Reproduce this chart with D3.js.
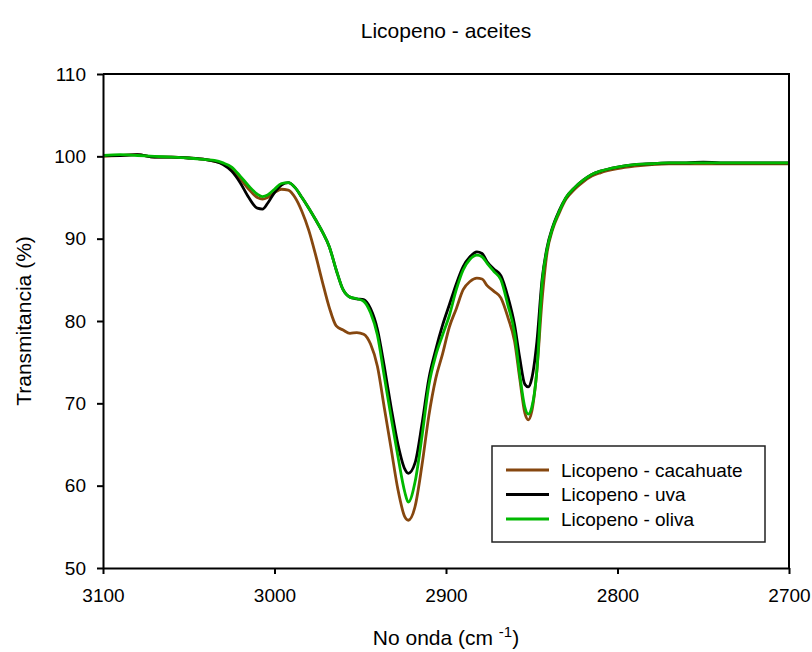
<!DOCTYPE html>
<html>
<head>
<meta charset="utf-8">
<script src="https://cdn.jsdelivr.net/npm/d3@7"></script>
<style>
  body { margin: 0; background: #fff; }
  svg { font-family: "Liberation Sans", Arial, sans-serif; }
</style>
</head>
<body>
<div id="chart"></div>
<script>
// wavenumber grid (cm-1), shared by all three spectra
const wavenumbers = [3100, 3090, 3080, 3070, 3060, 3050, 3040, 3035, 3030, 3025, 3020, 3015, 3010, 3007, 3004, 3000,
  2996, 2992, 2988, 2984, 2980, 2976, 2972, 2968, 2964, 2960, 2956, 2952, 2948, 2944, 2940, 2936, 2932, 2928,
  2924, 2922, 2918, 2914, 2910, 2906, 2902, 2898, 2894, 2890, 2886, 2882, 2879, 2876, 2872, 2868, 2864, 2860,
  2857, 2854, 2852, 2850, 2847, 2844, 2841, 2838, 2834, 2830, 2825, 2820, 2815, 2810, 2800, 2790, 2780, 2770,
  2760, 2750, 2740, 2730, 2720, 2710, 2700];

const cacahuate = [100.0, 100.1, 100.2, 99.9, 99.9, 99.8, 99.6, 99.4, 99.1, 98.5, 97.3, 96.0, 95.0, 94.8, 95.0, 95.6,
  96.0, 95.9, 95.0, 93.3, 91.0, 88.0, 84.7, 81.6, 79.4, 78.9, 78.5, 78.6, 78.4, 77.2, 74.5, 69.5, 64.5, 59.5,
  56.2, 55.8, 57.5, 62.5, 68.5, 73.0, 76.0, 79.3, 81.5, 83.8, 84.8, 85.2, 85.1, 84.3, 83.6, 82.8, 80.5, 77.5,
  73.0, 68.8, 68.0, 69.0, 74.0, 82.5, 88.4, 91.0, 93.1, 94.8, 96.0, 96.9, 97.6, 98.0, 98.5, 98.8, 99.0, 99.1,
  99.1, 99.1, 99.1, 99.1, 99.1, 99.1, 99.1];

const uva = [100.1, 100.1, 100.2, 99.9, 99.9, 99.8, 99.6, 99.4, 99.0, 98.2, 96.8, 95.0, 93.7, 93.6, 94.3, 95.6,
  96.5, 96.8, 96.2, 95.0, 93.7, 92.3, 90.8, 89.0, 86.2, 83.8, 82.9, 82.7, 82.6, 81.5, 79.0, 74.5, 69.5, 65.0,
  62.0, 61.5, 62.8, 67.5, 73.0, 76.5, 79.5, 82.0, 84.5, 86.6, 87.8, 88.4, 88.2, 87.2, 86.3, 85.5, 83.0, 79.5,
  75.5, 72.3, 72.0, 73.0, 77.5, 85.0, 89.0, 91.3, 93.4, 95.0, 96.2, 97.1, 97.8, 98.2, 98.7, 99.0, 99.1, 99.2,
  99.2, 99.3, 99.2, 99.2, 99.2, 99.2, 99.2];

const oliva = [100.1, 100.2, 100.1, 100.0, 99.9, 99.8, 99.6, 99.5, 99.2, 98.7, 97.6, 96.4, 95.4, 95.1, 95.3, 96.0,
  96.7, 96.8, 96.2, 95.0, 93.7, 92.3, 90.8, 89.0, 86.2, 83.8, 82.9, 82.7, 82.4, 81.0, 78.3, 73.3, 68.3, 63.5,
  59.2, 58.0, 60.5, 66.0, 72.2, 75.8, 78.3, 80.7, 83.8, 86.2, 87.5, 88.0, 87.8, 87.0, 86.0, 85.0, 82.0, 78.5,
  73.5, 69.5, 68.7, 69.5, 74.0, 84.5, 88.8, 91.2, 93.3, 95.0, 96.2, 97.1, 97.8, 98.2, 98.7, 99.0, 99.1, 99.2,
  99.2, 99.2, 99.2, 99.2, 99.2, 99.2, 99.2];

const seriesNames = ["Licopeno - cacahuate", "Licopeno - uva", "Licopeno - oliva"];
const seriesColors = ["#86470f", "#000000", "#00b800"];
const xTicks = [3100, 3000, 2900, 2800, 2700];
const yTicks = [50, 60, 70, 80, 90, 100, 110];

const W = 812, H = 652;
const margin = {top: 74, right: 23, bottom: 84, left: 103};
const width = W - margin.left - margin.right;
const height = H - margin.top - margin.bottom;

const svg = d3.select("#chart").append("svg")
    .attr("width", W)
    .attr("height", H);

const x = d3.scaleLinear().domain([3100, 2700]).range([margin.left, margin.left + width]);
const y = d3.scaleLinear().domain([50, 110]).range([margin.top + height, margin.top]);

// curves
const series = [cacahuate, uva, oliva].map((vals, i) => ({
  name: seriesNames[i],
  color: seriesColors[i],
  points: wavenumbers.map((w, j) => [w, vals[j]])
}));

const line = d3.line()
    .x(d => x(d[0]))
    .y(d => y(d[1]))
    .curve(d3.curveMonotoneX);

svg.append("g")
  .selectAll("path")
  .data(series)
  .join("path")
    .attr("fill", "none")
    .attr("stroke", d => d.color)
    .attr("stroke-width", 2.8)
    .attr("stroke-linejoin", "round")
    .attr("d", d => line(d.points));

// frame (top and right)
svg.append("path")
    .attr("fill", "none")
    .attr("stroke", "#000")
    .attr("stroke-width", 2)
    .attr("d", `M${margin.left},${margin.top}H${margin.left + width}V${margin.top + height}`);

// axes
const xAxis = svg.append("g")
    .attr("transform", `translate(0,${margin.top + height})`)
    .call(d3.axisBottom(x).tickValues(xTicks).tickFormat(d3.format("d")).tickSize(6).tickSizeOuter(0).tickPadding(15));
const yAxis = svg.append("g")
    .attr("transform", `translate(${margin.left},0)`)
    .call(d3.axisLeft(y).tickValues(yTicks).tickSize(6).tickSizeOuter(0).tickPadding(11));

[xAxis, yAxis].forEach(g => {
  g.select(".domain").attr("stroke-width", 2);
  g.selectAll(".tick line").attr("stroke-width", 2);
  g.selectAll(".tick text").attr("font-size", 19).attr("fill", "#000");
  g.attr("font-family", null);
});

// title and axis labels
svg.append("text")
    .attr("x", margin.left + width / 2)
    .attr("y", 38)
    .attr("text-anchor", "middle")
    .attr("font-size", 21)
    .text("Licopeno - aceites");

const xl = svg.append("text")
    .attr("x", margin.left + width / 2)
    .attr("y", 645)
    .attr("text-anchor", "middle")
    .attr("font-size", 21);
xl.append("tspan").text("No onda (cm ");
xl.append("tspan").attr("font-size", 15).attr("dy", -8).text("-1");
xl.append("tspan").attr("dy", 8).text(")");

svg.append("text")
    .attr("transform", `translate(31,${margin.top + height / 2}) rotate(-90)`)
    .attr("text-anchor", "middle")
    .attr("font-size", 21)
    .text("Transmitancia (%)");

// legend
const legend = svg.append("g");
legend.append("rect")
    .attr("x", 492).attr("y", 446)
    .attr("width", 273).attr("height", 96)
    .attr("fill", "#fff")
    .attr("stroke", "#222")
    .attr("stroke-width", 1.5);

const rows = legend.selectAll("g.row")
  .data(series)
  .join("g")
    .attr("class", "row")
    .attr("transform", (d, i) => `translate(0,${470 + i * 24.5})`);
rows.append("line")
    .attr("x1", 506).attr("x2", 549)
    .attr("stroke", d => d.color)
    .attr("stroke-width", 2.8);
rows.append("text")
    .attr("x", 561)
    .attr("dy", "0.35em")
    .attr("font-size", 19)
    .text(d => d.name);
</script>
</body>
</html>
